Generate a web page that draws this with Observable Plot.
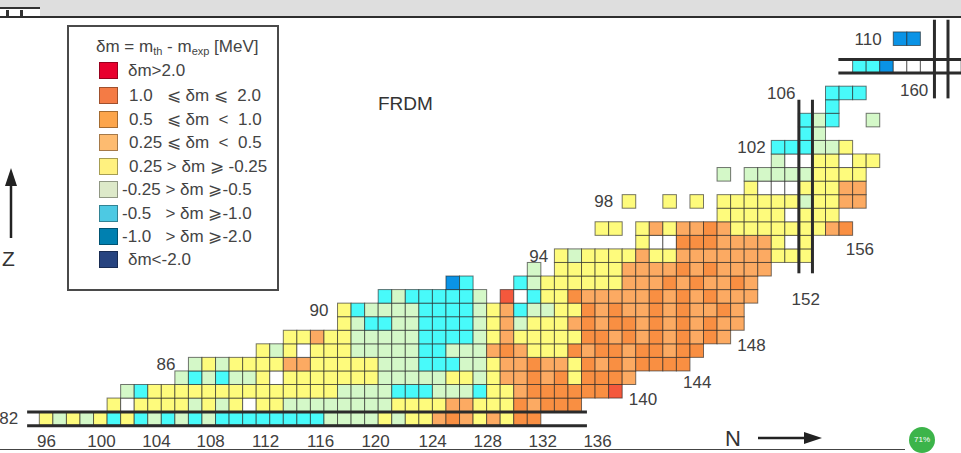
<!DOCTYPE html>
<html><head><meta charset="utf-8">
<script src="https://cdn.jsdelivr.net/npm/d3@7"></script>
<script src="https://cdn.jsdelivr.net/npm/@observablehq/plot@0.6"></script>
<style>
body{margin:0;background:#fff;font-family:"Liberation Sans",Arial,sans-serif;}
#wrap{position:relative;width:961px;height:453px;overflow:hidden;background:#fff;}
#wrap svg{position:absolute;left:0;top:0;}
.abs{position:absolute;}
.legend{left:67px;top:25px;width:208px;height:262px;border:2px solid #4a4a4a;background:#fff;}
.lt{position:absolute;font-size:17px;color:#444;white-space:pre;line-height:17px;}
.sw{position:absolute;width:17px;height:15px;border:1px solid rgba(0,0,0,0.35);}
sub{font-size:11px;vertical-align:-3px;line-height:0;}
</style></head><body>
<div id="wrap"></div>
<script>
// ---- data ----
// rows of the nuclear chart: proton number Z, first neutron number N, cell classes left to right
// classes: R >2, O 1..2, o 0.5..1, l 0.25..0.5, Y ±0.25, G -0.25..-0.5, C -0.5..-1, B -1..-2, D <-2, W white cell, _ no cell
const rowZ = [82, 83, 84, 85, 86, 87, 88, 89, 90, 91, 92, 93, 94, 95, 96, 97, 98, 99, 100, 101, 102, 103, 104, 105, 106, 108, 110];
const rowStartN = [96, 101, 102, 106, 107, 112, 114, 118, 118, 121, 126, 132, 134, 140, 137, 146, 139, 148, 146, 150, 150, 152, 152, 154, 154, 156, 159];
const rowCodes = [
  "YGYGYCYCGCGCGCCCCCCCCGGGGYGYYoOoYoYOO",
  "YWYYYYGYGYWYYGGGGGGGGYYYYooYYYOoOOO",
  "GCYYYYYYYYYYYYYYGGGGCCCGGGCYYoOOOOOOR",
  "GCGCGGYWYYYYYYYGGGGGYYGYooOoOYOOOo",
  "GYGYYYYooYYYYYGGGCCCGGYooOooYOoOoOOOO",
  "YGYWYYYGGGGGCCGGGoOoYYYOoOOoOOoOO",
  "YYoYYGGGGGCCCCGYoYYYYYOOoOoOoOoOo",
  "YGCCGGCCCCGYoGYYYoOoOOoOoOoOoo",
  "YCGGGGCCCCGYoCGGYYOoOooOoOooOo",
  "CGCCCCCG_RWCYYOoooooOoOoOooo",
  "BC___CGYYYYYYoooOoOooOo",
  "G_YYYYYooooOoOoooo",
  "YGYYYYoYYoooooooYYY",
  "YWWOOOooooYWY",
  "YY_YoYooOoYYYYYYYoO",
  "YYYYYWYYY",
  "Y__Y_Y_YYYYYYGYYoo",
  "YWWWYYYoo",
  "G_GGGGGYYYY",
  "GWWYYWYY",
  "CCCGGY",
  "CG",
  "CGC__G",
  "C",
  "CCC",
  "CCBWWWWW",
  "BB"
];
const classCodes = ["R", "O", "o", "l", "Y", "G", "C", "B", "D", "W"];
const cellColors = ["#f4583c", "#f98f42", "#fcaa62", "#fdbd78", "#fefb7c", "#d4f8c8", "#48fafa", "#0a93e6", "#27427c", "#ffffff"];

const legendLabels = ["δm>2.0", "1.0   ⩽ δm ⩽  2.0", "0.5   ⩽ δm  <  1.0", "0.25 ⩽ δm  <  0.5", "0.25 > δm ⩾ -0.25", "-0.25 > δm ⩾-0.5", "-0.5   > δm ⩾-1.0", "-1.0   > δm ⩾-2.0", "δm<-2.0"];
const legendColors = ["#e8002e", "#f47b45", "#fca54b", "#fdbb70", "#fff17f", "#dde9c9", "#4dc9e3", "#0080b0", "#274480"];

const bottomTicks = [96, 100, 104, 108, 112, 116, 120, 124, 128, 132, 136];
const bottomTickAtN = [95.99, 100.05, 104.11, 108.1, 112.16, 116.21, 120.27, 124.48, 128.54, 132.6, 136.65];
const zLabels = [82, 86, 90, 94, 98, 102, 106, 110];
const zLabelAtN = [93.2, 104.8, 116.1, 132.3, 137.1, 148.0, 150.2, 156.6];
const nLabels = [140, 144, 148, 152, 156, 160];
const nLabelAtZ = [83.4, 84.65, 87.4, 90.8, 94.5, 106.2];
const magicZ = [82, 108];
const magicZFromN = [94.6, 154.45];
const magicZToN = [135.9, 164];
const magicN = [152, 162];
const magicNFromZ = [92.7, 105.6];
const magicNToZ = [105.5, 111.4];

// ---- build tables ----
const cells = [];
rowZ.forEach((z, i) => {
  [...rowCodes[i]].forEach((c, j) => {
    if (c !== "_") cells.push({N: rowStartN[i] + j, Z: z, code: c});
  });
});
const hLines = magicZ.flatMap((z, i) => [-0.5, 0.5].map(o => ({y: z + o, x1: magicZFromN[i], x2: magicZToN[i]})));
const vLines = magicN.flatMap((n, i) => [-0.5, 0.5].map(o => ({x: n + o, y1: magicNFromZ[i], y2: magicNToZ[i]})));

const font = "Liberation Sans, Arial, sans-serif";
const chart = Plot.plot({
  width: 961, height: 453, margin: 0,
  style: {background: "transparent", fontFamily: font},
  x: {domain: [92.599, 163.496], axis: null},
  y: {domain: [79.448, 112.855], axis: null},
  color: {domain: classCodes, range: cellColors},
  marks: [
    Plot.rect(cells, {x1: d => d.N - 0.5, x2: d => d.N + 0.5, y1: d => d.Z - 0.5, y2: d => d.Z + 0.5,
      fill: "code", stroke: "#222", strokeOpacity: 0.62, strokeWidth: 1}),
    Plot.ruleY(hLines, {y: "y", x1: "x1", x2: "x2", stroke: "#2b2b2b", strokeWidth: 3}),
    Plot.ruleX(vLines, {x: "x", y1: "y1", y2: "y2", stroke: "#2b2b2b", strokeWidth: 3}),
    Plot.text(bottomTicks, {x: (d, i) => bottomTickAtN[i], y: () => 80.35, text: d => String(d), fontSize: 17, fill: "#404040"}),
    Plot.text(zLabels, {x: (d, i) => zLabelAtN[i], y: d => d, text: d => String(d), fontSize: 17, fill: "#404040"}),
    Plot.text(nLabels, {x: d => d, y: (d, i) => nLabelAtZ[i], text: d => String(d), fontSize: 17, fill: "#404040"})
  ]
});
const wrap = document.getElementById("wrap");
wrap.appendChild(chart);

// ---- overlays: window chrome, legend, annotations ----
function add(html) { wrap.insertAdjacentHTML("beforeend", html); }
add('<div class="abs" style="left:0;top:0;width:961px;height:17px;background:#dedede;"></div>');
add('<div class="abs" style="left:0;top:7px;width:40px;height:10px;background:#fff;border-top:2px solid #333;box-sizing:border-box;"></div>');
add('<div class="abs" style="left:6px;top:10px;width:3px;height:7px;background:#333;"></div>');
add('<div class="abs" style="left:20px;top:10px;width:3px;height:7px;background:#333;"></div>');
add('<div class="abs" style="left:0;top:16px;width:961px;height:2px;background:#2e2e2e;"></div>');
add('<div class="abs" style="left:0;top:449px;width:905px;height:1px;background:#444;"></div>');
add('<div class="abs" style="left:909px;top:427px;width:26px;height:26px;border-radius:50%;background:#3cb44a;color:#fff;font-size:8px;text-align:center;line-height:26px;">71%</div>');

let lg = '<div class="abs legend">';
lg += '<div class="lt" style="left:27px;top:11px;">δm = m<sub>th</sub> - m<sub>exp</sub> [MeV]</div>';
const tops = [35, 60, 84, 107, 131, 154, 178, 201, 224];
const textLeft = [59, 60, 60, 60, 60, 53, 53, 53, 59];
legendLabels.forEach((t, i) => {
  lg += `<div class="sw" style="left:30px;top:${tops[i]}px;background:${legendColors[i]};"></div>`;
  lg += `<div class="lt" style="left:${textLeft[i]}px;top:${tops[i]}px;">${t}</div>`;
});
lg += '</div>';
add(lg);

add('<div class="abs" style="left:378px;top:93px;font-size:19px;color:#333;">FRDM</div>');
add('<div class="abs" style="left:2px;top:247px;font-size:21px;color:#333;">Z</div>');
add('<div class="abs" style="left:725px;top:426px;font-size:22px;color:#333;">N</div>');
add('<svg class="abs" style="left:0;top:0;" width="961" height="453"><line x1="11" y1="238" x2="11" y2="182" stroke="#222" stroke-width="2.5"/><polygon points="11,168 5,186 17,186" fill="#222"/>' +
    '<line x1="758" y1="438" x2="806" y2="438" stroke="#222" stroke-width="2.5"/><polygon points="822,438 804,432 804,444" fill="#222"/></svg>');
</script>
</body></html>
